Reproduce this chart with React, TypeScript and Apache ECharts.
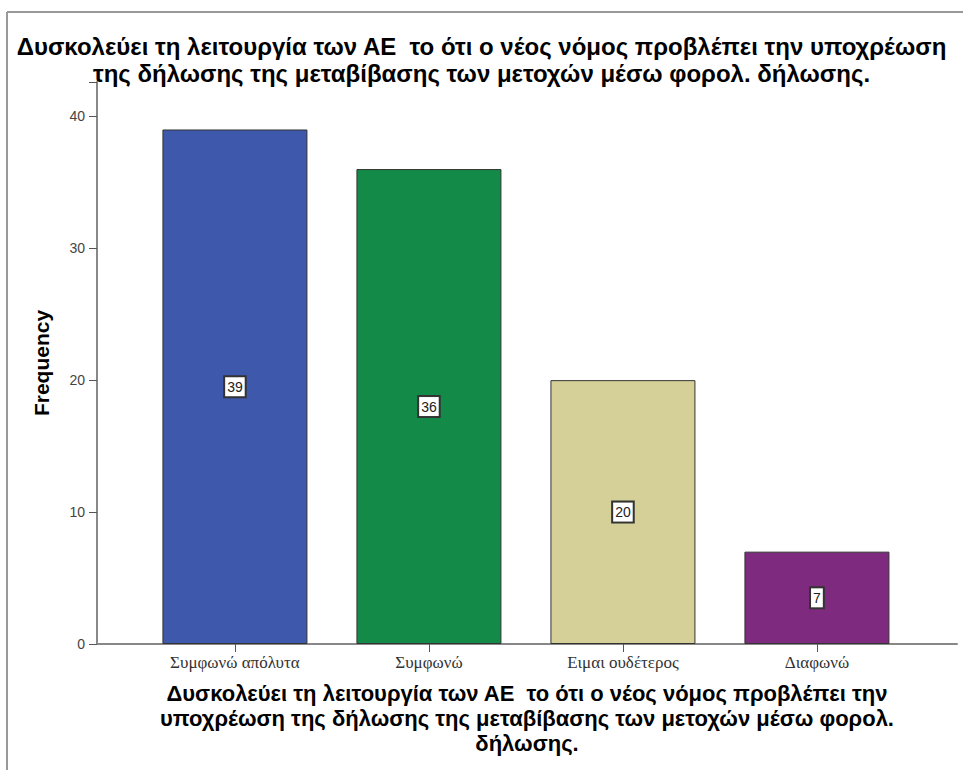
import React, { useEffect, useRef } from "react";
import * as echarts from "echarts";

const titleLines = [
  "Δυσκολεύει τη λειτουργία των ΑΕ  το ότι ο νέος νόμος προβλέπει την υποχρέωση",
  "της δήλωσης της μεταβίβασης των μετοχών μέσω φορολ. δήλωσης.",
];
const xNameLines = [
  "Δυσκολεύει τη λειτουργία των ΑΕ  το ότι ο νέος νόμος προβλέπει την",
  "υποχρέωση της δήλωσης της μεταβίβασης των μετοχών μέσω φορολ.",
  "δήλωσης.",
];
const categories = ["Συμφωνώ απόλυτα", "Συμφωνώ", "Ειμαι ουδέτερος", "Διαφωνώ"];
const frequencies = [39, 36, 20, 7];
const barColors = ["#3e58ac", "#138a47", "#d4d097", "#7d2a7f"];
const yTicks = [0, 10, 20, 30, 40];

export default function App() {
  const ref = useRef<HTMLDivElement>(null);
  useEffect(() => {
    document.body.style.margin = "0";
    const chart = echarts.init(ref.current!, null, { renderer: "svg" });
    const positions = categories.map((_, i) => i);
    chart.setOption({
      animation: false,
      backgroundColor: "#ffffff",
      title: {
        text: titleLines.join("\n"),
        left: "center",
        top: 33,
        padding: 0,
        textStyle: {
          fontFamily: "Liberation Sans, Arial, sans-serif",
          fontWeight: "bold",
          fontSize: 24,
          lineHeight: 27,
          color: "#000",
        },
      },
      graphic: [
        { type: "line", shape: { x1: 7, y1: 12, x2: 963, y2: 12 }, style: { stroke: "#999", lineWidth: 2 } },
        { type: "line", shape: { x1: 7, y1: 12, x2: 7, y2: 770 }, style: { stroke: "#999", lineWidth: 2 } },
      ],
      grid: { left: 97, right: 6, top: 82, bottom: 126 },
      xAxis: {
        type: "value",
        min: -0.711,
        max: 3.722,
        splitLine: { show: false },
        axisLine: { show: true, onZero: false, lineStyle: { color: "#888", width: 2 } },
        axisTick: { show: true, customValues: positions, length: 8, lineStyle: { color: "#555", width: 1 } },
        axisLabel: {
          customValues: positions,
          formatter: (v: number) => categories[Math.round(v)] ?? "",
          fontFamily: "Liberation Serif, Times New Roman, serif",
          fontSize: 17,
          color: "#333",
          margin: 10,
        },
        name: xNameLines.join("\n"),
        nameLocation: "middle",
        nameGap: 37,
        nameTextStyle: {
          fontFamily: "Liberation Sans, Arial, sans-serif",
          fontWeight: "bold",
          fontSize: 22,
          lineHeight: 25,
          color: "#000",
        },
      },
      yAxis: {
        type: "value",
        min: 0,
        max: 42.6,
        interval: 10,
        splitLine: { show: false },
        axisLine: { show: true, onZero: false, lineStyle: { color: "#888", width: 2 } },
        axisTick: { show: true, length: 8, lineStyle: { color: "#555", width: 1 } },
        axisLabel: {
          customValues: yTicks,
          fontFamily: "Liberation Sans, Arial, sans-serif",
          fontSize: 14,
          color: "#444",
          margin: 12,
        },
        name: "Frequency",
        nameLocation: "middle",
        nameGap: 45,
        nameTextStyle: {
          fontFamily: "Liberation Sans, Arial, sans-serif",
          fontWeight: "bold",
          fontSize: 21,
          color: "#000",
        },
      },
      series: [
        {
          type: "bar",
          barWidth: 145,
          data: frequencies.map((v, i) => ({
            value: [i, v],
            itemStyle: { color: barColors[i], borderColor: "#333", borderWidth: 1 },
          })),
          label: {
            show: true,
            position: "inside",
            formatter: (p: any) => String(p.value[1]),
            backgroundColor: "#fff",
            borderColor: "#333",
            borderWidth: 2,
            padding: [3, 2, 2, 2],
            fontFamily: "Liberation Sans, Arial, sans-serif",
            fontSize: 14,
            color: "#222",
          },
        },
      ],
    });
    return () => chart.dispose();
  }, []);
  return <div ref={ref} style={{ position: "absolute", left: 0, top: 0, width: 963, height: 770 }} />;
}
